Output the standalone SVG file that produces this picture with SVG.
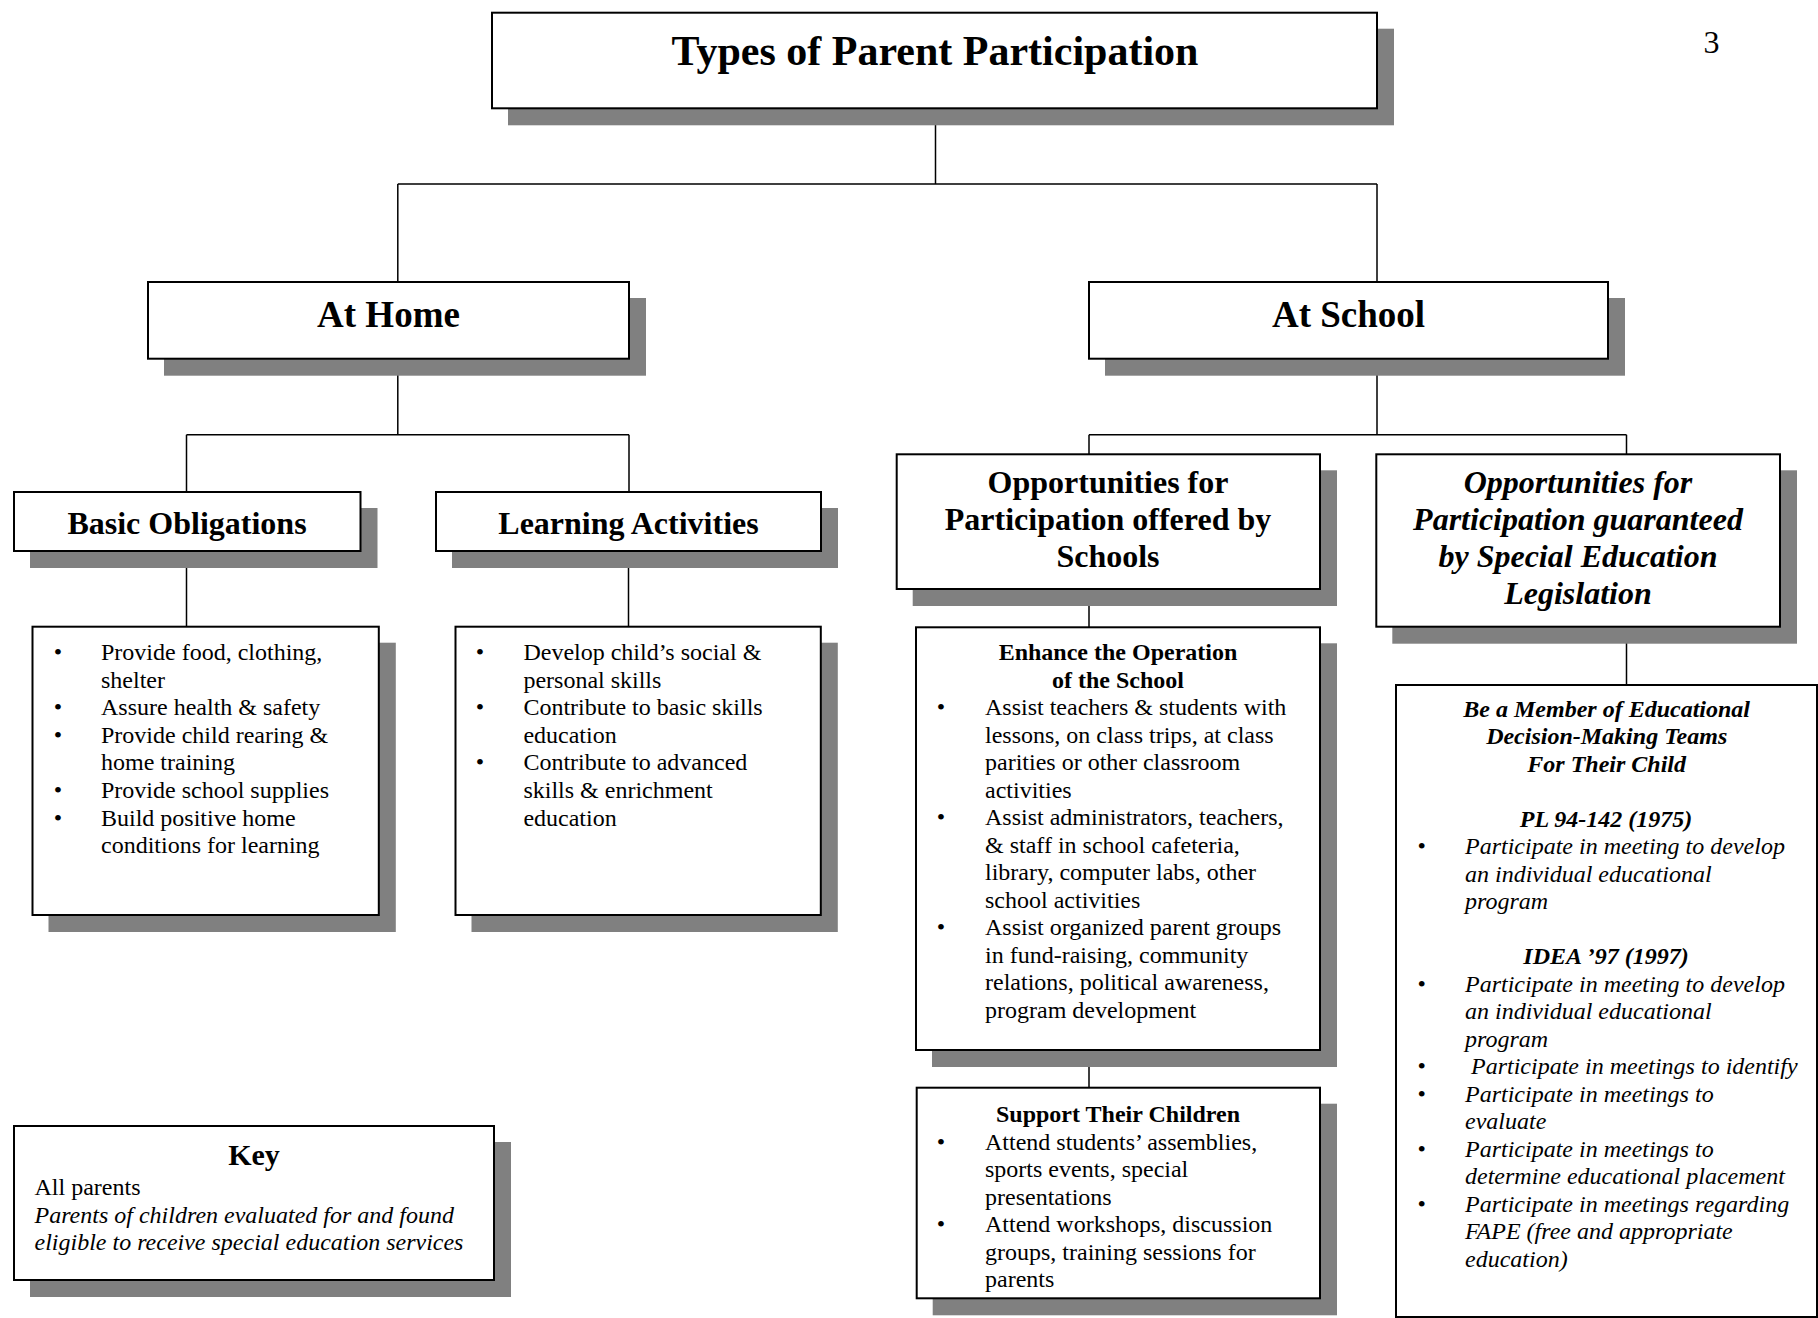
<svg xmlns="http://www.w3.org/2000/svg" width="1818" height="1318" viewBox="0 0 1818 1318">
<style>
text{font-family:"Liberation Serif","Times New Roman",serif;fill:#000}
.sh{fill:#808080}
.bx{fill:#fff;stroke:#000;stroke-width:2}
.c{stroke:#000;stroke-width:1.5;fill:none}
.t1{font-size:42px;font-weight:bold;text-anchor:middle}
.t2{font-size:37px;font-weight:bold;text-anchor:middle}
.t3{font-size:32px;font-weight:bold;text-anchor:middle}
.t3i{font-size:32px;font-weight:bold;font-style:italic;text-anchor:middle}
.b{font-size:24px}
.bh{font-size:24px;font-weight:bold;text-anchor:middle}
.bhi{font-size:24px;font-weight:bold;font-style:italic;text-anchor:middle}
.i{font-size:24px;font-style:italic}
.bu{font-size:24px;text-anchor:middle}
</style>
<rect width="1818" height="1318" fill="#fff"/>
<g id="connectors">
<path class="c" d="M935.5,108 V184 M397.8,184 H1377 M397.8,184 V282 M1377,184 V282"/>
<path class="c" d="M397.8,358 V434.7 M186.5,434.7 H629 M186.5,434.7 V492 M629,434.7 V492"/>
<path class="c" d="M186.5,551 V626.7 M628.5,551 V626.7"/>
<path class="c" d="M1377,358 V434.7 M1089,434.7 H1626.5 M1089,434.7 V454.3 M1626.5,434.7 V454.3"/>
<path class="c" d="M1089,589 V627.3 M1089,1050 V1087.7 M1626.5,626.7 V685"/>
</g>
<g id="title">
<rect class="sh" x="508" y="28.7" width="886" height="96.6"/>
<rect class="bx" x="492" y="12.7" width="885" height="95.6"/>
<text class="t1" x="935" y="65">Types of Parent Participation</text>
</g>
<g id="page-number"><text x="1711.5" y="53" font-size="32" text-anchor="middle">3</text></g>
<g id="at-home">
<rect class="sh" x="164" y="298" width="482" height="77.7"/>
<rect class="bx" x="148" y="282" width="481" height="76.7"/>
<text class="t2" x="388.5" y="327">At Home</text>
</g>
<g id="at-school">
<rect class="sh" x="1105" y="298" width="520" height="77.7"/>
<rect class="bx" x="1089" y="282" width="519" height="76.7"/>
<text class="t2" x="1348.5" y="327">At School</text>
</g>
<g id="basic-obligations">
<rect class="sh" x="30" y="508" width="347.5" height="60"/>
<rect class="bx" x="14" y="492" width="346.5" height="59"/>
<text class="t3" x="187" y="534">Basic Obligations</text>
</g>
<g id="learning-activities">
<rect class="sh" x="452" y="508" width="386" height="60"/>
<rect class="bx" x="436" y="492" width="385" height="59"/>
<text class="t3" x="628.5" y="534">Learning Activities</text>
</g>
<g id="opportunities-offered">
<rect class="sh" x="912.7" y="470.3" width="424.3" height="135.7"/>
<rect class="bx" x="896.7" y="454.3" width="423.3" height="134.7"/>
<text class="t3" x="1108" y="493">Opportunities for</text>
<text class="t3" x="1108" y="530">Participation offered by</text>
<text class="t3" x="1108" y="567">Schools</text>
</g>
<g id="opportunities-guaranteed">
<rect class="sh" x="1392.3" y="470.3" width="404.7" height="173.4"/>
<rect class="bx" x="1376.3" y="454.3" width="403.7" height="172.4"/>
<text class="t3i" x="1578" y="493">Opportunities for</text>
<text class="t3i" x="1578" y="530">Participation guaranteed</text>
<text class="t3i" x="1578" y="567">by Special Education</text>
<text class="t3i" x="1578" y="604">Legislation</text>
</g>
<g id="basic-list">
<rect class="sh" x="48.5" y="642.7" width="347.3" height="289.3"/>
<rect class="bx" x="32.5" y="626.7" width="346.3" height="288.3"/>
<text class="bu" x="58" y="660">•</text><text class="b" x="101" y="660">Provide food, clothing,</text>
<text class="b" x="101" y="687.6">shelter</text>
<text class="bu" x="58" y="715.2">•</text><text class="b" x="101" y="715.2">Assure health &amp; safety</text>
<text class="bu" x="58" y="742.8">•</text><text class="b" x="101" y="742.8">Provide child rearing &amp;</text>
<text class="b" x="101" y="770.4">home training</text>
<text class="bu" x="58" y="798">•</text><text class="b" x="101" y="798">Provide school supplies</text>
<text class="bu" x="58" y="825.6">•</text><text class="b" x="101" y="825.6">Build positive home</text>
<text class="b" x="101" y="853.2">conditions for learning</text>
</g>
<g id="learning-list">
<rect class="sh" x="471.5" y="642.7" width="366.3" height="289.3"/>
<rect class="bx" x="455.5" y="626.7" width="365.3" height="288.3"/>
<text class="bu" x="480" y="660">•</text><text class="b" x="523.4" y="660">Develop child’s social &amp;</text>
<text class="b" x="523.4" y="687.6">personal skills</text>
<text class="bu" x="480" y="715.2">•</text><text class="b" x="523.4" y="715.2">Contribute to basic skills</text>
<text class="b" x="523.4" y="742.8">education</text>
<text class="bu" x="480" y="770.4">•</text><text class="b" x="523.4" y="770.4">Contribute to advanced</text>
<text class="b" x="523.4" y="798">skills &amp; enrichment</text>
<text class="b" x="523.4" y="825.6">education</text>
</g>
<g id="enhance-operation">
<rect class="sh" x="932" y="643.3" width="405" height="423.7"/>
<rect class="bx" x="916" y="627.3" width="404" height="422.7"/>
<text class="bh" x="1118" y="660">Enhance the Operation</text>
<text class="bh" x="1118" y="687.5">of the School</text>
<text class="bu" x="941" y="715">•</text><text class="b" x="985" y="715">Assist teachers &amp; students with</text>
<text class="b" x="985" y="742.5">lessons, on class trips, at class</text>
<text class="b" x="985" y="770">parities or other classroom</text>
<text class="b" x="985" y="797.5">activities</text>
<text class="bu" x="941" y="825">•</text><text class="b" x="985" y="825">Assist administrators, teachers,</text>
<text class="b" x="985" y="852.5">&amp; staff in school cafeteria,</text>
<text class="b" x="985" y="880">library, computer labs, other</text>
<text class="b" x="985" y="907.5">school activities</text>
<text class="bu" x="941" y="935">•</text><text class="b" x="985" y="935">Assist organized parent groups</text>
<text class="b" x="985" y="962.5">in fund-raising, community</text>
<text class="b" x="985" y="990">relations, political awareness,</text>
<text class="b" x="985" y="1017.5">program development</text>
</g>
<g id="support-children">
<rect class="sh" x="932.7" y="1103.7" width="404.3" height="211.6"/>
<rect class="bx" x="916.7" y="1087.7" width="403.3" height="210.6"/>
<text class="bh" x="1118" y="1122">Support Their Children</text>
<text class="bu" x="941" y="1149.5">•</text><text class="b" x="985" y="1149.5">Attend students’ assemblies,</text>
<text class="b" x="985" y="1177">sports events, special</text>
<text class="b" x="985" y="1204.5">presentations</text>
<text class="bu" x="941" y="1232">•</text><text class="b" x="985" y="1232">Attend workshops, discussion</text>
<text class="b" x="985" y="1259.5">groups, training sessions for</text>
<text class="b" x="985" y="1287">parents</text>
</g>
<g id="decision-teams">
<rect class="bx" x="1396" y="685" width="421" height="632"/>
<text class="bhi" x="1606.7" y="716.5">Be a Member of Educational</text>
<text class="bhi" x="1606.7" y="744">Decision-Making Teams</text>
<text class="bhi" x="1606.7" y="771.5">For Their Child</text>
<text class="bhi" x="1606" y="826.5">PL 94-142 (1975)</text>
<text class="bu" x="1421.7" y="854">•</text><text class="i" x="1465" y="854">Participate in meeting to develop</text>
<text class="i" x="1465" y="881.5">an individual educational</text>
<text class="i" x="1465" y="909">program</text>
<text class="bhi" x="1606" y="964">IDEA ’97 (1997)</text>
<text class="bu" x="1421.7" y="991.5">•</text><text class="i" x="1465" y="991.5">Participate in meeting to develop</text>
<text class="i" x="1465" y="1019">an individual educational</text>
<text class="i" x="1465" y="1046.5">program</text>
<text class="bu" x="1421.7" y="1074">•</text><text class="i" x="1471" y="1074">Participate in meetings to identify</text>
<text class="bu" x="1421.7" y="1101.5">•</text><text class="i" x="1465" y="1101.5">Participate in meetings to</text>
<text class="i" x="1465" y="1129">evaluate</text>
<text class="bu" x="1421.7" y="1156.5">•</text><text class="i" x="1465" y="1156.5">Participate in meetings to</text>
<text class="i" x="1465" y="1184">determine educational placement</text>
<text class="bu" x="1421.7" y="1211.5">•</text><text class="i" x="1465" y="1211.5">Participate in meetings regarding</text>
<text class="i" x="1465" y="1239">FAPE (free and appropriate</text>
<text class="i" x="1465" y="1266.5">education)</text>
</g>
<g id="key">
<rect class="sh" x="30" y="1142" width="481" height="155"/>
<rect class="bx" x="14" y="1126" width="480" height="154"/>
<text x="254" y="1165" font-size="30" font-weight="bold" text-anchor="middle">Key</text>
<text class="b" x="34.5" y="1195">All parents</text>
<text class="i" x="34.5" y="1222.5">Parents of children evaluated for and found</text>
<text class="i" x="34.5" y="1250">eligible to receive special education services</text>
</g>
</svg>
